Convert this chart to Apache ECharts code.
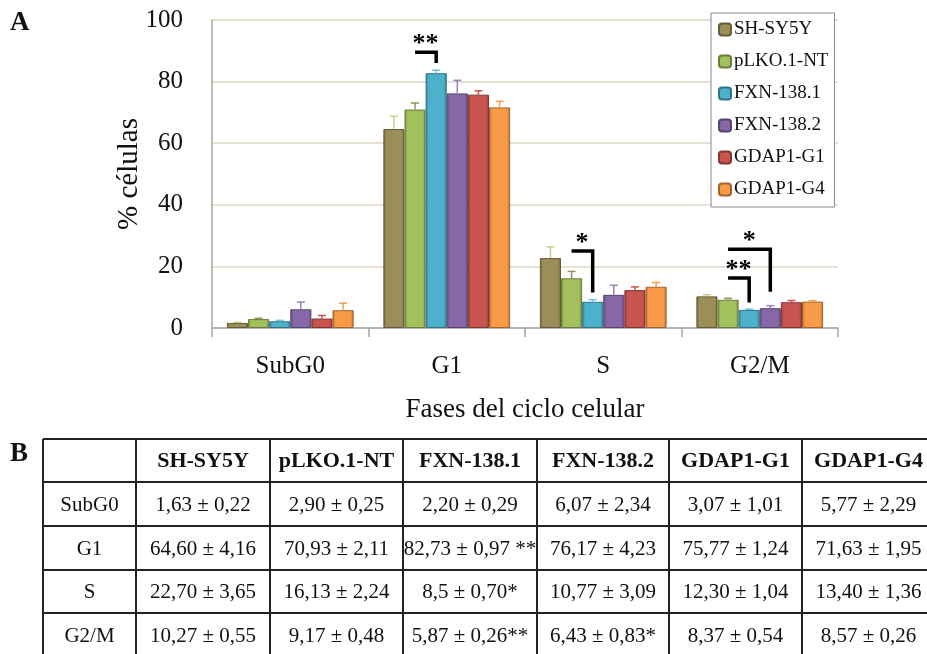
<!DOCTYPE html>
<html>
<head>
<meta charset="utf-8">
<script src="https://cdn.jsdelivr.net/npm/echarts@6/dist/echarts.min.js"></script>
<style>
html, body { margin: 0; padding: 0; background: #fff; }
#chart { width: 927px; height: 654px; }
</style>
</head>
<body>
<div id="chart"></div>
<script>
const phases = ['SubG0', 'G1', 'S', 'G2/M']
const cellLines = ['SH-SY5Y', 'pLKO.1-NT', 'FXN-138.1', 'FXN-138.2', 'GDAP1-G1', 'GDAP1-G4']

// mean % of cells per phase (SubG0, G1, S, G2/M) and SD
const shsy5yMean = [1.63, 64.60, 22.70, 10.27]
const shsy5ySd = [0.22, 4.16, 3.65, 0.55]
const plkoMean = [2.90, 70.93, 16.13, 9.17]
const plkoSd = [0.25, 2.11, 2.24, 0.48]
const fxn1Mean = [2.20, 82.73, 8.5, 5.87]
const fxn1Sd = [0.29, 0.97, 0.70, 0.26]
const fxn2Mean = [6.07, 76.17, 10.77, 6.43]
const fxn2Sd = [2.34, 4.23, 3.09, 0.83]
const gdapG1Mean = [3.07, 75.77, 12.30, 8.37]
const gdapG1Sd = [1.01, 1.24, 1.04, 0.54]
const gdapG4Mean = [5.77, 71.63, 13.40, 8.57]
const gdapG4Sd = [2.29, 1.95, 1.36, 0.26]

const yMin = 0
const yMax = 100
const yStep = 20

// significance brackets: phase, from bar, to bar, bracket level, drop end, stars
const brackets = [
  [1, 1, 2, 89.5, 86, '**'],
  [2, 1, 2, 25, 11.5, '*'],
  [3, 1, 2, 16.2, 8.3, '**'],
  [3, 1, 3, 25.6, 11.8, '*'],
]

// table B text
const tableSubG0 = ['1,63 ± 0,22', '2,90 ± 0,25', '2,20 ± 0,29', '6,07 ± 2,34', '3,07 ± 1,01', '5,77 ± 2,29']
const tableG1 = ['64,60 ± 4,16', '70,93 ± 2,11', '82,73 ± 0,97', '76,17 ± 4,23', '75,77 ± 1,24', '71,63 ± 1,95']
const tableS = ['22,70 ± 3,65', '16,13 ± 2,24', '8,5 ± 0,70', '10,77 ± 3,09', '12,30 ± 1,04', '13,40 ± 1,36']
const tableG2M = ['10,27 ± 0,55', '9,17 ± 0,48', '5,87 ± 0,26', '6,43 ± 0,83', '8,37 ± 0,54', '8,57 ± 0,26']
const starsSubG0 = ['', '', '', '', '', '']
const starsG1 = ['', '', ' **', '', '', '']
const starsS = ['', '', '*', '', '', '']
const starsG2M = ['', '', '**', '*', '', '']

const means = [shsy5yMean, plkoMean, fxn1Mean, fxn2Mean, gdapG1Mean, gdapG4Mean]
const sds = [shsy5ySd, plkoSd, fxn1Sd, fxn2Sd, gdapG1Sd, gdapG4Sd]
const tableText = [tableSubG0, tableG1, tableS, tableG2M]
const tableStars = [starsSubG0, starsG1, starsS, starsG2M]

const colors = ['#9a8f58', '#a2c05c', '#4db1cc', '#8668a8', '#c9534f', '#f99a48']
const errColors = ['#c2d18a', '#9a8f58', '#6cc3da', '#9a80b8', '#c9534f', '#f99a48']
const serif = '"Liberation Serif", serif'
const gapRatio = 0.19

function shade(hex, amt) {
  const n = parseInt(hex.slice(1), 16)
  const f = (v) => Math.max(0, Math.min(255, Math.round(v + (amt < 0 ? v * amt : (255 - v) * amt))))
  const r = f(n >> 16), g = f((n >> 8) & 255), b = f(n & 255)
  return 'rgb(' + r + ',' + g + ',' + b + ')'
}

function barStyle(c) {
  return {
    color: new echarts.graphic.LinearGradient(0, 0, 1, 0, [
      { offset: 0, color: shade(c, -0.3) },
      { offset: 0.14, color: c },
      { offset: 0.86, color: c },
      { offset: 1, color: shade(c, -0.3) },
    ]),
    borderColor: shade(c, -0.35),
    borderWidth: 1,
  }
}

// x position of bar i inside a category band
function barX(api, cat, i) {
  const band = api.size([1, 0])[0]
  const groupW = band * (1 - gapRatio)
  const barW = groupW / cellLines.length
  return api.coord([cat, 0])[0] - groupW / 2 + (i + 0.5) * barW
}

const barSeries = cellLines.map((name, i) => ({
  name,
  type: 'bar',
  barGap: '0%',
  barCategoryGap: (gapRatio * 100) + '%',
  itemStyle: barStyle(colors[i]),
  data: means[i],
  z: 2,
}))

const errData = []
cellLines.forEach((name, i) => {
  phases.forEach((p, c) => errData.push([c, i, means[i][c], sds[i][c]]))
})

const errSeries = {
  type: 'custom',
  name: 'error',
  z: 3,
  silent: true,
  data: errData,
  renderItem: (params, api) => {
    const cat = api.value(0)
    const i = api.value(1)
    const x = barX(api, cat, i)
    const y0 = api.coord([cat, api.value(2)])[1]
    const y1 = api.coord([cat, api.value(2) + api.value(3)])[1]
    const st = { stroke: errColors[i], lineWidth: 1.5 }
    return {
      type: 'group',
      children: [
        { type: 'line', shape: { x1: x, y1: y0, x2: x, y2: y1 }, style: st },
        { type: 'line', shape: { x1: x - 4, y1: y1, x2: x + 4, y2: y1 }, style: st },
      ],
    }
  },
}

const bracketSeries = {
  type: 'custom',
  name: 'sig',
  z: 4,
  silent: true,
  data: brackets,
  renderItem: (params, api) => {
    const b = brackets[params.dataIndex]
    const cat = b[0]
    const xa = barX(api, cat, b[1])
    const xb = barX(api, cat, b[2])
    const yTop = api.coord([cat, b[3]])[1]
    const yEnd = api.coord([cat, b[4]])[1]
    return {
      type: 'group',
      children: [
        {
          type: 'polyline',
          shape: { points: [[xa, yTop], [xb, yTop], [xb, yEnd]] },
          style: { stroke: '#000', lineWidth: 3.5, fill: null },
        },
        {
          type: 'text',
          style: {
            x: (xa + xb) / 2, y: yTop - 8,
            text: b[5], align: 'center', verticalAlign: 'middle',
            fontFamily: serif, fontSize: 26, fontWeight: 'bold', fill: '#000',
          },
        },
      ],
    }
  },
}

// table B as graphic elements
const colX = [43, 136, 270, 403, 537, 669, 802, 935]
const rowY = [439, 482, 526, 570, 613, 657]
const tableEls = []
colX.forEach((x) => tableEls.push({
  type: 'line', shape: { x1: x, y1: rowY[0], x2: x, y2: rowY[rowY.length - 1] },
  style: { stroke: '#222', lineWidth: 2 },
}))
rowY.forEach((y) => tableEls.push({
  type: 'line', shape: { x1: colX[0], y1: y, x2: colX[colX.length - 1], y2: y },
  style: { stroke: '#222', lineWidth: 2 },
}))
function cell(r, c, text, bold) {
  tableEls.push({
    type: 'text',
    style: {
      x: (colX[c] + colX[c + 1]) / 2, y: (rowY[r] + rowY[r + 1]) / 2 + 1,
      text, align: 'center', verticalAlign: 'middle',
      fontFamily: serif, fontSize: bold ? 22 : 21, fontWeight: bold ? 'bold' : 'normal', fill: '#111',
    },
  })
}
cellLines.forEach((name, i) => cell(0, i + 1, name, true))
phases.forEach((p, r) => {
  cell(r + 1, 0, p, false)
  tableText[r].forEach((t, i) => cell(r + 1, i + 1, t + tableStars[r][i], false))
})

const chart = echarts.init(document.getElementById('chart'))

chart.setOption({
  animation: false,
  backgroundColor: '#fff',
  textStyle: { fontFamily: serif },
  grid: { left: 212, right: 89, top: 20, bottom: 326 },
  legend: {
    data: cellLines,
    orient: 'vertical',
    left: 711,
    top: 13,
    padding: [7, 6, 8, 7],
    itemWidth: 12,
    itemHeight: 12,
    itemGap: 13,
    backgroundColor: '#fff',
    borderColor: '#888',
    borderWidth: 1,
    borderRadius: 0,
    textStyle: { fontFamily: serif, fontSize: 19, lineHeight: 19, color: '#111', padding: [0, 0, 0, -2] },
  },
  xAxis: {
    type: 'category',
    data: phases,
    name: 'Fases del ciclo celular',
    nameLocation: 'middle',
    nameGap: 68,
    nameTextStyle: { fontFamily: serif, fontSize: 27, color: '#111' },
    axisLine: { lineStyle: { color: '#a6a6a6', width: 1.5 } },
    axisTick: { show: true, length: 9, lineStyle: { color: '#a6a6a6', width: 1.5 } },
    axisLabel: { fontFamily: serif, fontSize: 25, color: '#111', margin: 26 },
  },
  yAxis: {
    type: 'value',
    min: yMin,
    max: yMax,
    interval: yStep,
    name: '% células',
    nameLocation: 'middle',
    nameGap: 68,
    nameMoveOverlap: false,
    nameTextStyle: { fontFamily: serif, fontSize: 29, color: '#111' },
    axisLine: { show: true, lineStyle: { color: '#a6a6a6', width: 1.5 } },
    axisTick: { show: false },
    axisLabel: { fontFamily: serif, fontSize: 25, color: '#111', margin: 29 },
    splitLine: { lineStyle: { color: '#e6e1d3', width: 2 } },
  },
  graphic: [
    { type: 'text', style: { x: 10, y: 10, text: 'A', fontFamily: serif, fontSize: 27, fontWeight: 'bold', fill: '#111' } },
    { type: 'text', style: { x: 10, y: 441, text: 'B', fontFamily: serif, fontSize: 27, fontWeight: 'bold', fill: '#111' } },
    ...tableEls,
  ],
  series: [...barSeries, errSeries, bracketSeries],
})
</script>
</body>
</html>
